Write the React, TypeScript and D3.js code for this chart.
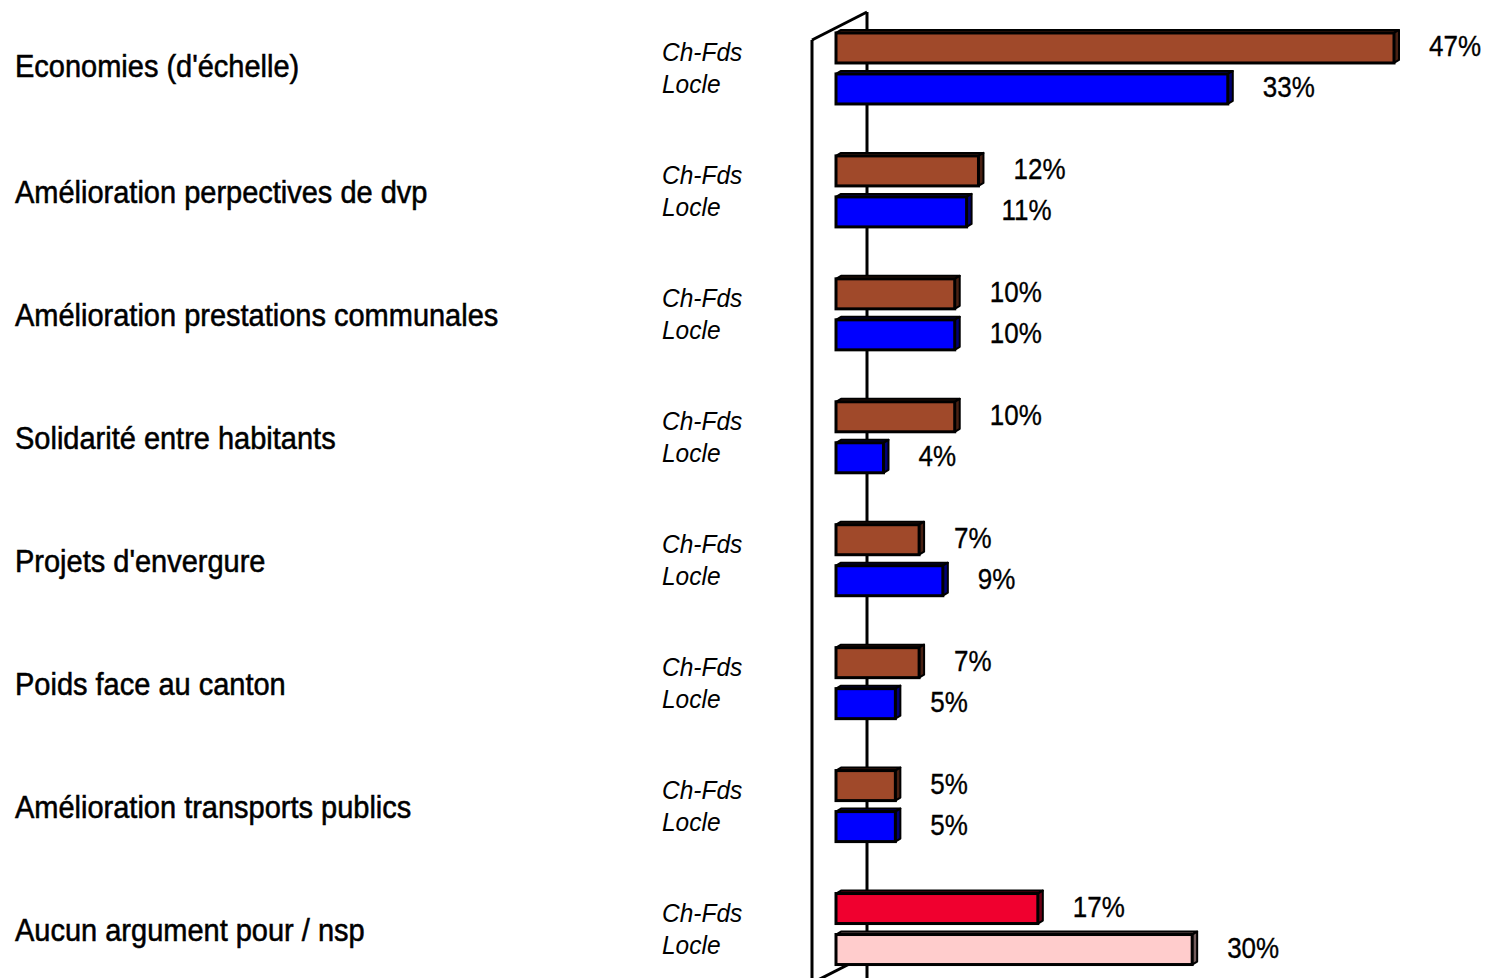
import React from "react";
import * as d3 from "d3";

const categories = [
  "Economies (d'échelle)",
  "Amélioration perpectives de dvp",
  "Amélioration prestations communales",
  "Solidarité entre habitants",
  "Projets d'envergure",
  "Poids face au canton",
  "Amélioration transports publics",
  "Aucun argument pour / nsp",
];
const seriesNames = ["Ch-Fds", "Locle"];
const chfdsValues = [47, 12, 10, 10, 7, 7, 5, 17];
const locleValues = [33, 11, 10, 4, 9, 5, 5, 30];
const normalColors = ["#A0492A", "#0000FF"];
const lastColors = ["#F0002F", "#FFCCCC"];

const W = 1486;
const H = 978;
const FONT = "'Liberation Sans', Arial, sans-serif";

export default function App() {
  const y = d3.scaleBand<string>().domain(categories).range([7, 990.5]).paddingInner(0).paddingOuter(0);
  const inner = d3.scaleBand<string>().domain(seriesNames).range([-35.5, 35.5]).paddingInner(0.268).paddingOuter(0);
  const x = d3.scaleLinear().domain([0, 47]).range([836, 1394]);
  const bw = inner.bandwidth();
  const dx = 5, dy = 3;

  const wallFrontX = 812;
  const wallBackX = 867;

  const bars: any[] = [];
  categories.forEach((c, i) => {
    const center = (y(c) as number) + y.bandwidth() / 2;
    [chfdsValues[i], locleValues[i]].forEach((v, j) => {
      const s = seriesNames[j];
      const top = center + (inner(s) as number);
      const color = i === categories.length - 1 ? lastColors[j] : normalColors[j];
      bars.push({ key: `${i}-${j}`, x0: x(0), x1: x(v), top, color, v });
    });
  });

  return (
    <svg width={W} height={H} style={{ position: "absolute", left: 0, top: 0, background: "#fff" }}>
      {/* wall */}
      <line x1={wallBackX} y1={12} x2={wallBackX} y2={H} stroke="#000" strokeWidth={3} />
      <line x1={wallFrontX} y1={40} x2={wallBackX} y2={12} stroke="#000" strokeWidth={3} />
      <line x1={wallFrontX} y1={40} x2={wallFrontX} y2={H} stroke="#000" strokeWidth={3} />
      <line x1={wallFrontX} y1={983} x2={wallBackX} y2={955} stroke="#000" strokeWidth={3} />
      {bars.map((b) => {
        const dark = d3.color(b.color)!.darker(2.2).formatHex();
        return (
          <g key={b.key}>
            <polygon
              points={`${b.x0},${b.top} ${b.x0 + dx},${b.top - dy} ${b.x1 + dx},${b.top - dy} ${b.x1},${b.top}`}
              fill={dark} stroke="#000" strokeWidth={2} strokeLinejoin="round"
            />
            <polygon
              points={`${b.x1},${b.top} ${b.x1 + dx},${b.top - dy} ${b.x1 + dx},${b.top + bw - dy} ${b.x1},${b.top + bw}`}
              fill={dark} stroke="#000" strokeWidth={2} strokeLinejoin="round"
            />
            <rect x={b.x0} y={b.top} width={b.x1 - b.x0} height={bw} fill={b.color} stroke="#000" strokeWidth={3} />
            <text
              transform={`translate(${b.x1 + 35},${b.top + bw / 2 + 8.5}) scale(1,1.17)`}
              fontFamily={FONT} fontSize={26} fill="#000" stroke="#000" strokeWidth={0.3}
            >
              {b.v}%
            </text>
          </g>
        );
      })}
      {categories.map((c, i) => {
        const center = (y(c) as number) + y.bandwidth() / 2;
        return (
          <g key={c}>
            <text
              transform={`translate(15,${center + (i === 0 ? 9 : 12)}) scale(1,1.07)`}
              fontFamily={FONT} fontSize={29} fill="#000" stroke="#000" strokeWidth={0.5}
            >{c}</text>
            <text
              transform={`translate(662,${center - 7}) scale(1,1.08)`}
              fontFamily={FONT} fontSize={24.5} fontStyle="italic" fill="#000"
            >{seriesNames[0]}</text>
            <text
              transform={`translate(662,${center + 25}) scale(1,1.08)`}
              fontFamily={FONT} fontSize={24.5} fontStyle="italic" fill="#000"
            >{seriesNames[1]}</text>
          </g>
        );
      })}
    </svg>
  );
}
